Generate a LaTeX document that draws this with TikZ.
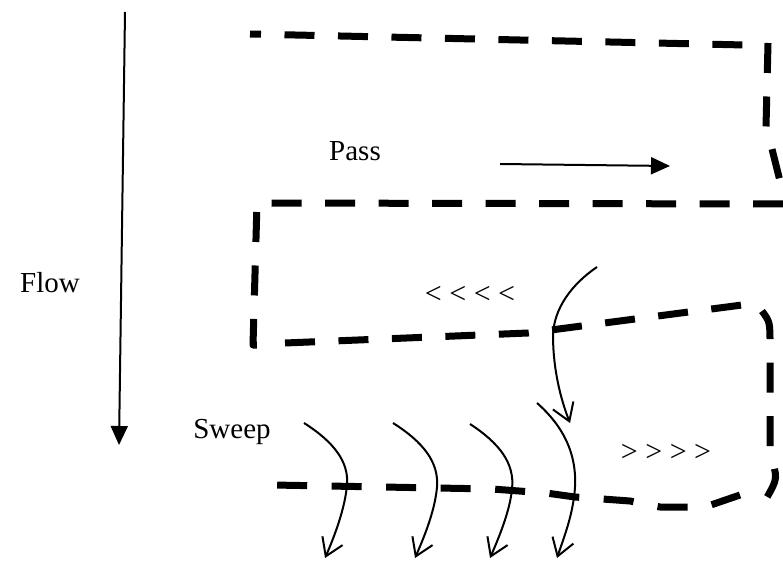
\documentclass[tikz,border=0pt]{standalone}
\usepackage{fontspec}
\setmainfont{Liberation Serif}
\usetikzlibrary{arrows.meta}

\tikzset{
  bolddash/.style={line width=7pt, dash pattern=on 30pt off 23.5pt, line join=round},
  thinline/.style={line width=2pt},
  sweeparrow/.style={thinline, -{Straight Barb[length=17pt,width=22pt,line width=2pt]}},
  bigarrow/.style={line width=2pt, -{Triangle[length=19pt,width=17pt]}},
  label/.style={inner sep=0pt, font=\fontsize{29}{34}\selectfont},
  chevrons/.style={inner sep=0pt, font=\fontsize{30}{34}\selectfont}
}

\begin{document}
\begin{tikzpicture}[x=1pt, y=-1pt]
\useasboundingbox[fill=white] (0,0) rectangle (783,561);

% --- labels ---
\node[label, anchor=base] (flow)  at (50,292)  {Flow};
\node[label, anchor=base] (pass)  at (355,161) {Pass};
\node[label, anchor=base] (sweep) at (232,438) {Sweep};
\node[chevrons] (left)  at (470,295) {< < < <};
\node[chevrons] (right) at (666,453) {> > > >};

% --- flow direction and pass direction ---
\coordinate (flowtop) at (125,12);
\coordinate (flowbot) at (119,445);
\draw[bigarrow] (flowtop) -- (flowbot);

\coordinate (passa) at (500,164);
\coordinate (passb) at (670,166);
\draw[bigarrow] (passa) -- (passb);

% --- serpentine dashed path, one run per stretch ---
% top run
\draw[bolddash, dash phase=19pt] (250,34) -- (745,45);
% right side of the upper turn
\draw[bolddash] (768,43) -- (766,127) -- (771,145) -- (781,185);
% second run, back to the left, down the left side
\draw[bolddash] (783,204) -- (257,203) -- (253,345) -- (262,345);
% third run, rising to the right
\draw[bolddash] (285,343) -- (528,333) -- (742,305);
% right side of the lower turn
\draw[bolddash] (762,311) .. controls (770,322) .. (770,345) -- (770,455)
  .. controls (778,478) .. (766,499);
% bottom run, back to the left
\draw[bolddash, dash pattern=on 30pt off 24.5pt]
  (740,495) -- (705,507) -- (660,507) -- (630,501)
  -- (575,497) -- (546,493) -- (492,489) -- (273,485);

% --- sweep curves crossing the bottom run ---
\coordinate (s1a) at (304,423); \coordinate (s1b) at (325,558);
\coordinate (s2a) at (393,423); \coordinate (s2b) at (415,558);
\coordinate (s3a) at (470,424); \coordinate (s3b) at (490,558);
\coordinate (s4a) at (537,403); \coordinate (s4b) at (557,558);
\coordinate (cta) at (597,267); \coordinate (ctb) at (570,423);

\draw[sweeparrow] (s1a) .. controls (334,442) and (349,462) .. (347,485)
  .. controls (345,508) and (335,535) .. (s1b);
\draw[sweeparrow] (s2a) .. controls (423,442) and (439,462) .. (437,487)
  .. controls (435,510) and (425,535) .. (s2b);
\draw[sweeparrow] (s3a) .. controls (499,443) and (515,463) .. (512,489)
  .. controls (510,510) and (500,535) .. (s3b);
\draw[sweeparrow] (s4a) .. controls (562,425) and (580,455) .. (574,497)
  .. controls (571,520) and (563,540) .. (s4b);
\draw[sweeparrow] (cta) .. controls (572,284) and (554,308) .. (553,335)
  .. controls (553,370) and (561,400) .. (ctb);

\end{tikzpicture}
\end{document}
